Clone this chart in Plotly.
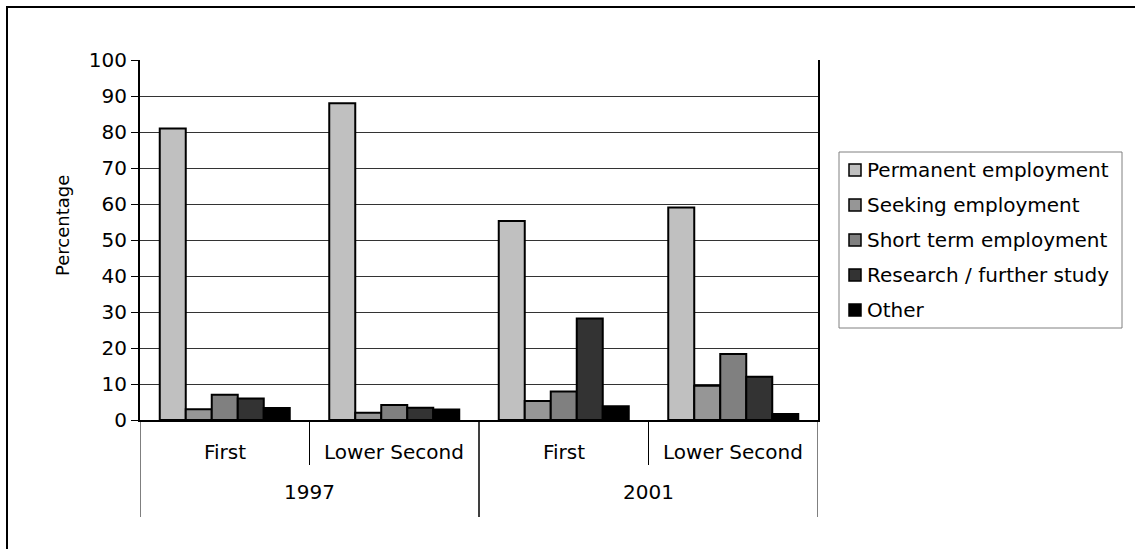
import plotly.graph_objects as go

# Graduate destinations by degree class, 1997 vs 2001 (percent)
years = ["1997", "1997", "2001", "2001"]
classes = ["First", "Lower Second", "First", "Lower Second"]

series_names = [
    "Permanent employment",
    "Seeking employment",
    "Short term employment",
    "Research / further study",
    "Other",
]
permanent = [81.0, 88.0, 55.3, 59.0]
seeking = [3.0, 2.0, 5.3, 9.5]
short_term = [7.0, 4.2, 7.9, 18.3]
research = [6.0, 3.4, 28.2, 12.0]
other = [3.3, 2.9, 3.8, 1.7]
series_values = [permanent, seeking, short_term, research, other]
series_colors = ["#C0C0C0", "#969696", "#808080", "#333333", "#000000"]

yticks = [0, 10, 20, 30, 40, 50, 60, 70, 80, 90, 100]

W, H = 1135, 549
L, R, T, B = 140, 818, 60, 420  # plot area in pixels
FONT = "DejaVu Sans"


def px_x(px):
    return (px - L) / (R - L)


def px_y(py):
    return (B - py) / (B - T)


xpos = list(range(len(classes)))

fig = go.Figure()
for name, vals, col in zip(series_names, series_values, series_colors):
    fig.add_trace(go.Bar(
        x=xpos, y=vals, name=name,
        marker=dict(color=col, line=dict(color="black", width=2)),
        showlegend=False,
    ))

shapes = []
annotations = []

# category labels and dividers below the axis
for i, c in enumerate(classes):
    annotations.append(dict(x=i, y=px_y(452), xref="x", yref="paper", text=c,
                            yanchor="middle", xanchor="center", showarrow=False,
                            font=dict(family=FONT, size=20, color="black")))
groups = []
for i, yr in enumerate(years):
    if not groups or groups[-1][0] != yr:
        groups.append([yr, i, i])
    else:
        groups[-1][2] = i
for yr, a, b in groups:
    annotations.append(dict(x=(a + b) / 2, y=px_y(492), xref="x", yref="paper", text=yr,
                            yanchor="middle", xanchor="center", showarrow=False,
                            font=dict(family=FONT, size=20, color="black")))
    for edge in (a - 0.5, b + 0.5):
        shapes.append(dict(type="line", xref="x", yref="paper", x0=edge, x1=edge,
                           y0=0, y1=px_y(517), line=dict(color="black", width=1)))
    for k in range(a, b):
        shapes.append(dict(type="line", xref="x", yref="paper", x0=k + 0.5, x1=k + 0.5,
                           y0=0, y1=px_y(465), line=dict(color="black", width=1)))

# y axis title
annotations.append(dict(x=px_x(62), y=px_y(226), xref="paper", yref="paper", text="Percentage",
                        textangle=-90, xanchor="center", yanchor="middle", showarrow=False,
                        font=dict(family=FONT, size=18, color="black")))

# legend box
shapes.append(dict(type="rect", xref="paper", yref="paper",
                   x0=px_x(839), x1=px_x(1122), y0=px_y(152), y1=px_y(328),
                   line=dict(color="#808080", width=1), fillcolor="white"))
for k, (name, col) in enumerate(zip(series_names, series_colors)):
    cy = 170 + k * 35
    shapes.append(dict(type="rect", xref="paper", yref="paper",
                       x0=px_x(849), x1=px_x(861), y0=px_y(cy - 6), y1=px_y(cy + 6),
                       line=dict(color="black", width=1.5), fillcolor=col))
    annotations.append(dict(x=px_x(865), y=px_y(cy), xref="paper", yref="paper", text=name,
                            xanchor="left", yanchor="middle", showarrow=False,
                            font=dict(family=FONT, size=20, color="black")))

# outer chart frame (only its left and top edges fall inside the page)
shapes.append(dict(type="rect", xref="paper", yref="paper",
                   x0=px_x(7), x1=px_x(1170), y0=px_y(7), y1=px_y(580),
                   line=dict(color="black", width=2), fillcolor="rgba(0,0,0,0)", layer="below"))

fig.update_layout(
    width=W, height=H,
    margin=dict(l=L, r=W - R, t=T, b=H - B, pad=0),
    paper_bgcolor="white", plot_bgcolor="white",
    barmode="group", bargap=0.233, bargroupgap=0,
    shapes=shapes, annotations=annotations,
    font=dict(family=FONT, size=20, color="black"),
)
fig.update_xaxes(range=[-0.5, len(classes) - 0.5], showticklabels=False, ticks="",
                 showgrid=False, zeroline=False, showline=True, linecolor="black",
                 linewidth=2, mirror=False)
fig.update_yaxes(range=[0, 100], tickvals=yticks, ticks="outside", ticklen=7,
                 tickcolor="black", tickwidth=1, showgrid=True, gridcolor="#333333",
                 gridwidth=1, zeroline=False, showline=True, linecolor="black",
                 linewidth=2, mirror=True,
                 tickfont=dict(family=FONT, size=20, color="black"))

fig.write_html("out.html")
